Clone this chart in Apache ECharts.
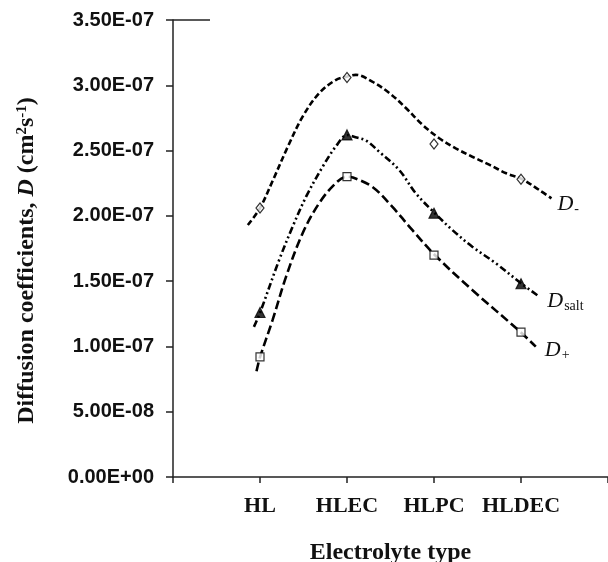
<!DOCTYPE html>
<html>
<head>
<meta charset="utf-8">
<script src="https://cdn.jsdelivr.net/npm/echarts@6/dist/echarts.min.js"></script>
<style>
  html, body { margin: 0; padding: 0; background: #fff; }
  #chart { width: 608px; height: 562px; }
</style>
</head>
<body>
<div id="chart"></div>
<script>
// Diffusion coefficients (in units of 1e-7 cm^2 s^-1) per electrolyte
const UNIT = 1e-7;
const categories = ['HL', 'HLEC', 'HLPC', 'HLDEC'];
const dMinus = [2.06, 3.06, 2.55, 2.28];
const dSalt  = [1.26, 2.62, 2.02, 1.48];
const dPlus  = [0.92, 2.30, 1.70, 1.11];

// Trend curves: position along the category axis and fitted value
const dMinusFitX = [0.86, 1.0, 1.15, 1.32, 1.49, 1.68, 1.87, 2.0, 2.1, 2.29, 2.49, 2.68, 2.87, 3.06, 3.25, 3.44, 3.64, 3.83, 4.0, 4.21, 4.35];
const dMinusFit  = [1.93, 2.06, 2.275, 2.53, 2.76, 2.94, 3.04, 3.066, 3.08, 3.028, 2.939, 2.824, 2.696, 2.594, 2.517, 2.453, 2.39, 2.326, 2.285, 2.198, 2.134];

const dSaltFitX = [0.93, 1.0, 1.22, 1.375, 1.53, 1.72, 1.87, 2.0, 2.08, 2.22, 2.37, 2.6, 2.79, 3.01, 3.21, 3.44, 3.71, 4.0, 4.21];
const dSaltFit  = [1.15, 1.258, 1.662, 1.917, 2.147, 2.376, 2.53, 2.619, 2.606, 2.576, 2.491, 2.351, 2.173, 2.02, 1.892, 1.764, 1.637, 1.484, 1.381];

const dPlusFitX = [0.96, 1.0, 1.145, 1.3, 1.49, 1.68, 1.87, 2.0, 2.06, 2.29, 2.52, 2.75, 3.01, 3.44, 3.99, 4.17];
const dPlusFit  = [0.81, 0.917, 1.203, 1.535, 1.867, 2.097, 2.25, 2.30, 2.295, 2.223, 2.07, 1.892, 1.70, 1.432, 1.113, 0.998];

const yTickLabel = v => {
  if (v === 0) return '0.00E+00';
  const [m, e] = (v * UNIT).toExponential(2).split('e');
  const n = parseInt(e, 10);
  return m + 'E' + (n < 0 ? '-' : '+') + String(Math.abs(n)).padStart(2, '0');
};

const pairs = (xs, ys) => xs.map((x, i) => [x, ys[i]]);
const atCategories = ys => ys.map((y, i) => [i + 1, y]);

const serif = '"Liberation Serif", "Times New Roman", serif';
const sans = '"Liberation Sans", Arial, sans-serif';

const labelRich = {
  d: { fontFamily: serif, fontStyle: 'italic', fontSize: 22, color: '#111' },
  s: { fontFamily: serif, fontSize: 14, color: '#111', padding: [10, 0, 0, 1] }
};

function fitSeries(name, xs, ys, dash, labelText, offset) {
  return {
    name: name,
    type: 'line',
    data: pairs(xs, ys),
    smooth: 0.35,
    symbol: 'none',
    silent: true,
    z: 2,
    lineStyle: { color: '#000', width: 2.6, type: dash },
    endLabel: {
      show: true,
      formatter: labelText,
      distance: 5,
      offset: offset,
      rich: labelRich
    }
  };
}

function markerSeries(name, ys, symbol, size, filled) {
  return {
    name: name,
    type: 'scatter',
    data: atCategories(ys),
    symbol: symbol,
    symbolSize: size,
    z: 3,
    itemStyle: {
      color: filled ? '#000' : '#fff',
      borderColor: '#000',
      borderWidth: 1.2
    }
  };
}

const titleText = { fontFamily: serif, fontWeight: 'bold', fontSize: 24, color: '#111', verticalAlign: 'bottom' };

const chart = echarts.init(document.getElementById('chart'));
chart.setOption({
  animation: false,
  backgroundColor: '#fff',
  grid: { left: 173, right: 0, top: 20, bottom: 85, containLabel: false, outerBoundsMode: 'none' },
  xAxis: {
    type: 'value',
    min: 0,
    max: 5,
    interval: 1,
    splitLine: { show: false },
    axisLine: { lineStyle: { color: '#222', width: 1.5 } },
    axisTick: { length: 6, lineStyle: { color: '#222', width: 1.5 } },
    axisLabel: {
      formatter: v => categories[v - 1] || '',
      fontFamily: serif,
      fontWeight: 'bold',
      fontSize: 22,
      color: '#111',
      margin: 18
    },
    name: 'Electrolyte type',
    nameLocation: 'middle',
    nameGap: 64,
    nameTextStyle: { fontFamily: serif, fontWeight: 'bold', fontSize: 24, color: '#111' }
  },
  yAxis: {
    type: 'value',
    min: 0,
    max: 3.5,
    interval: 0.5,
    splitLine: { show: false },
    axisLine: { show: true, lineStyle: { color: '#222', width: 1.5 } },
    axisTick: { show: true, length: 7, lineStyle: { color: '#222', width: 1.5 } },
    axisLabel: {
      formatter: yTickLabel,
      fontFamily: sans,
      fontWeight: 'bold',
      fontSize: 20,
      color: '#111',
      margin: 19
    },
    name: '{b|Diffusion coefficients, }{i|D}{b| (cm}{sup|2}{b|s}{sup|-1}{b|)}',
    nameLocation: 'middle',
    nameRotate: 90,
    nameGap: 134,
    nameTextStyle: {
      padding: [0, 24, 0, 0],
      rich: {
        b: titleText,
        i: Object.assign({}, titleText, { fontStyle: 'italic' }),
        sup: { fontFamily: serif, fontWeight: 'bold', fontSize: 15, color: '#111', verticalAlign: 'bottom', padding: [0, 0, 9, 0] }
      }
    }
  },
  graphic: [
    {
      type: 'line',
      shape: { x1: 173, y1: 20, x2: 210, y2: 20 },
      style: { stroke: '#222', lineWidth: 1.5 }
    }
  ],
  series: [
    fitSeries('D- fit', dMinusFitX, dMinusFit, [6, 3], '{d|D}{s|-}', [1, 6]),
    fitSeries('Dsalt fit', dSaltFitX, dSaltFit, [7, 3, 2, 3, 2, 3], '{d|D}{s|salt}', [3, 5]),
    fitSeries('D+ fit', dPlusFitX, dPlusFit, [9, 4], '{d|D}{s|+}', [4, 4]),
    markerSeries('D-', dMinus, 'diamond', [8, 10], false),
    markerSeries('Dsalt', dSalt, 'triangle', 10, true),
    markerSeries('D+', dPlus, 'rect', 8, false)
  ]
});
</script>
</body>
</html>
